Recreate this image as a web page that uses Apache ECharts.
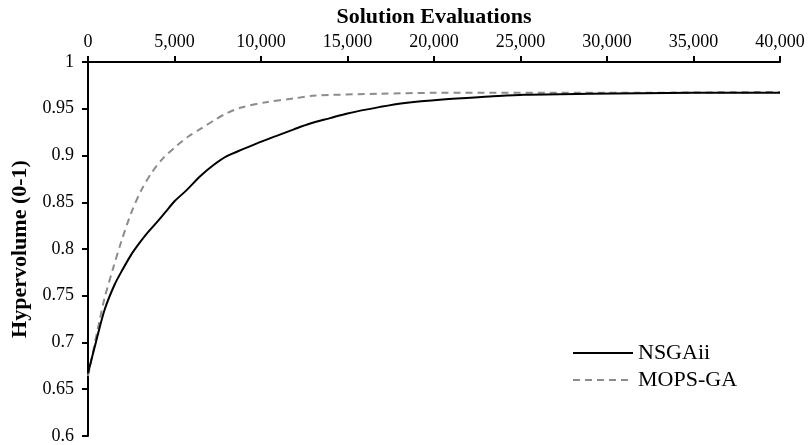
<!DOCTYPE html>
<html>
<head>
<meta charset="utf-8">
<script src="https://cdn.jsdelivr.net/npm/echarts@6/dist/echarts.min.js"></script>
<style>
  html, body { margin: 0; padding: 0; background: #fff; }
  #chart { width: 808px; height: 445px; }
</style>
</head>
<body>
<div id="chart"></div>
<script>
// NSGAii 曲线
const nsgaEvals = [0, 480, 960, 1540, 2000, 2500, 3000, 3470, 4000, 4500, 5000, 5700, 6500, 7200, 8000, 9000, 9900, 10900, 11900, 12800, 14000, 15000, 16900, 18200, 20500, 23200, 25200, 29000, 35000, 40000];
const nsgaHv = [0.667, 0.702, 0.735, 0.762, 0.778, 0.794, 0.807, 0.818, 0.829, 0.840, 0.851, 0.863, 0.878, 0.889, 0.899, 0.907, 0.914, 0.921, 0.928, 0.934, 0.940, 0.945, 0.952, 0.956, 0.960, 0.963, 0.965, 0.966, 0.967, 0.967];
// MOPS-GA 曲线
const mopsEvals = [0, 675, 964, 1445, 1926, 2505, 3083, 3661, 4335, 5106, 5780, 6551, 7322, 8000, 8800, 10300, 11900, 13000, 16900, 20000, 30000, 40000];
const mopsHv = [0.664, 0.724, 0.748, 0.779, 0.808, 0.839, 0.863, 0.881, 0.897, 0.910, 0.920, 0.929, 0.938, 0.945, 0.951, 0.957, 0.961, 0.964, 0.966, 0.967, 0.967, 0.968];

const seriesNames = ["NSGAii", "MOPS-GA"];
const xTitle = "Solution Evaluations";
const yTitle = "Hypervolume (0-1)";

const font = "Liberation Serif";

function pairs(xs, ys) {
  return xs.map((x, i) => [x, ys[i]]);
}

const chart = echarts.init(document.getElementById("chart"));
chart.setOption({
  animation: false,
  textStyle: { fontFamily: font, color: "#000" },
  grid: { left: 88, right: 28, top: 62, bottom: 7 },
  legend: {
    left: 567,
    top: 337,
    orient: "vertical",
    itemWidth: 60,
    itemHeight: 4,
    itemGap: 5,
    itemStyle: { opacity: 0 }, // 隐藏图例里的圆点，只留线
    textStyle: { fontFamily: font, fontSize: 22, color: "#000" },
    data: seriesNames,
  },
  xAxis: {
    type: "value",
    position: "top",
    min: 0,
    max: 40000,
    interval: 5000,
    name: xTitle,
    nameLocation: "middle",
    nameGap: 34,
    nameTextStyle: { fontFamily: font, fontSize: 22, fontWeight: "bold", color: "#000" },
    axisLine: { show: true, lineStyle: { color: "#000", width: 2 } },
    axisTick: { show: true, length: 6, lineStyle: { color: "#000", width: 2 } },
    splitLine: { show: false },
    axisLabel: {
      fontFamily: font,
      fontSize: 18,
      color: "#000",
      margin: 11,
      formatter: (v) => String(v).replace(/\B(?=(\d{3})+(?!\d))/g, ","),
    },
  },
  yAxis: {
    type: "value",
    min: 0.6,
    max: 1,
    interval: 0.05,
    name: yTitle,
    nameLocation: "middle",
    nameGap: 56,
    nameTextStyle: { fontFamily: font, fontSize: 22, fontWeight: "bold", color: "#000" },
    axisLine: { show: true, lineStyle: { color: "#000", width: 2 } },
    axisTick: { show: true, length: 6, lineStyle: { color: "#000", width: 2 } },
    splitLine: { show: false },
    axisLabel: {
      fontFamily: font,
      fontSize: 18,
      color: "#000",
      margin: 14,
      formatter: (v) => String(+v.toFixed(2)),
    },
  },
  series: [
    {
      name: seriesNames[0],
      type: "line",
      data: pairs(nsgaEvals, nsgaHv),
      showSymbol: false,
      smooth: 0.3,
      lineStyle: { color: "#000", width: 2 },
      itemStyle: { color: "#000" },
      z: 3,
    },
    {
      name: seriesNames[1],
      type: "line",
      data: pairs(mopsEvals, mopsHv),
      showSymbol: false,
      smooth: 0.3,
      lineStyle: { color: "#8c8c8c", width: 2, type: [7, 5] },
      itemStyle: { color: "#8c8c8c" },
      z: 2,
    },
  ],
});
</script>
</body>
</html>
